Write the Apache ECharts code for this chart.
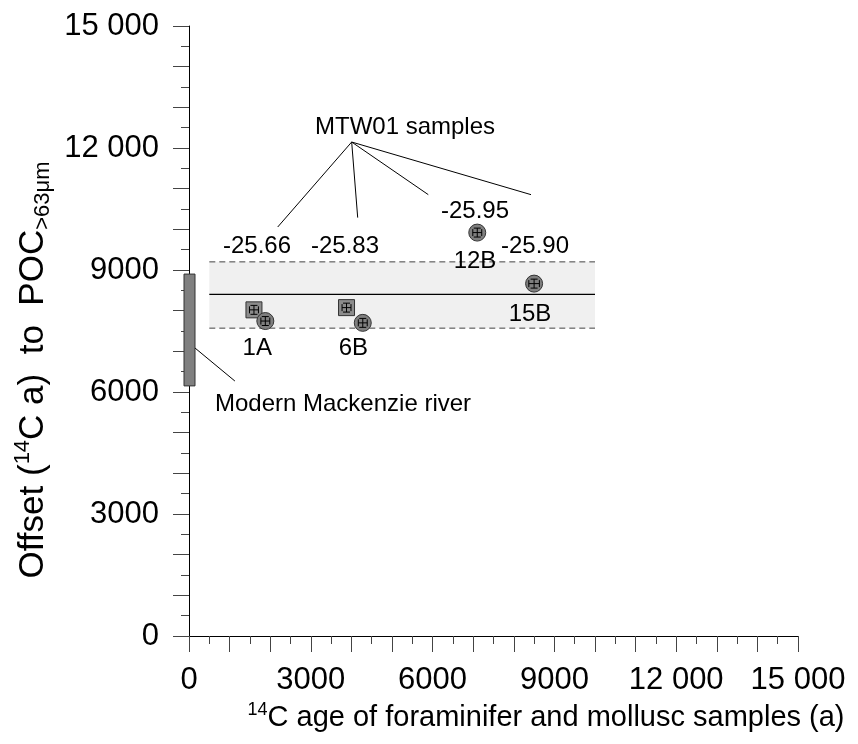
<!DOCTYPE html>
<html><head><meta charset="utf-8">
<script src="https://cdn.jsdelivr.net/npm/echarts@6/dist/echarts.min.js"></script>
<style>html,body{margin:0;padding:0;background:#fff}#c{width:858px;height:744px}</style>
</head><body><div id="c"></div>
<script>
const FONT = '"Liberation Sans", Arial, Helvetica, sans-serif';

// ---- data ----
const axisRange = [0, 15000];
const xTickLabels = [0, 3000, 6000, 9000, 12000, 15000];
const yTickLabels = [0, 3000, 6000, 9000, 12000, 15000];
const squareNames = ['1A', '6B'];
const squareAge = [1600, 3880];
const squareOffset = [8020, 8075];
const squareErrX = [110, 110];
const squareErrY = [110, 110];
const circleNames = ['1A', '6B', '12B', '15B'];
const circleAge = [1880, 4280, 7100, 8500];
const circleOffset = [7745, 7700, 9920, 8665];
const circleErrX = [110, 110, 110, 130];
const circleErrY = [110, 110, 110, 110];
const delta13C = ['-25.66', '-25.83', '-25.95', '-25.90'];
const riverAge = [0];
const riverOffsetRange = [6150, 8900];
const bandAge = [500, 10000];
const bandOffset = [7570, 9200];
const bandMean = [8400];

// ---- annotation anchors (data units) ----
const ann = {
  hub: [4007, 12147],
  leaderEnds: [[2185, 10057], [4155, 10288], [5894, 10853], [8424, 10853]],
  title: [5320, 12508],
  deltaPos: [[1675, 9584], [3842, 9584], [7044, 10444], [8522, 9584]],
  namePos: [[1682, 7067], [4047, 7067], [7044, 9221], [8399, 7910]],
  riverLeader: [[150, 7080], [1130, 6270]],
  riverText: [640, 5697]
};

function fmt(v) {
  return v >= 10000 ? String(v).replace(/(\d+)(\d{3})$/, '$1 $2') : String(v);
}

const chart = echarts.init(document.getElementById('c'), null, {renderer: 'canvas'});

const axisCommon = {
  type: 'value', min: axisRange[0], max: axisRange[1], interval: 1000,
  axisLine: {show: true, onZero: false, lineStyle: {color: '#000', width: 1}},
  axisTick: {show: true, length: 16, lineStyle: {color: '#444', width: 1}},
  minorTick: {show: true, splitNumber: 2, length: 8, lineStyle: {color: '#444', width: 1}},
  splitLine: {show: false}, minorSplitLine: {show: false}
};

const option = {
  animation: false,
  grid: {left: 189, top: 26, width: 609, height: 610, containLabel: false},
  xAxis: Object.assign({}, axisCommon, {
    axisLabel: {margin: 29, fontSize: 31, fontFamily: FONT, color: '#000',
      formatter: v => xTickLabels.includes(v) ? fmt(v) : ''}
  }),
  yAxis: Object.assign({}, axisCommon, {
    axisLabel: {margin: 30, fontSize: 31, fontFamily: FONT, color: '#000',
      formatter: v => yTickLabels.includes(v) ? fmt(v) : ''}
  }),
  graphic: [
    {type: 'text', x: 546, y: 718, style: {
      text: '{sup|14}C age of foraminifer and mollusc samples (a)',
      fontSize: 29, fontFamily: FONT, fill: '#000', align: 'center', verticalAlign: 'middle',
      lineHeight: 33,
      rich: {sup: {fontSize: 18, fontFamily: FONT, lineHeight: 18, verticalAlign: 'top'}}
    }},
    {type: 'text', x: 33, y: 370, rotation: Math.PI / 2, style: {
      text: 'Offset ({sup|14}C a)  to  POC{sub|>63μm}',
      fontSize: 35, fontFamily: FONT, fill: '#000', align: 'center', verticalAlign: 'middle',
      lineHeight: 42,
      rich: {
        sup: {fontSize: 22, fontFamily: FONT, lineHeight: 22, verticalAlign: 'top'},
        sub: {fontSize: 22, fontFamily: FONT, lineHeight: 22, verticalAlign: 'bottom'}
      }
    }}
  ],
  series: [
    { // shaded band
      type: 'custom', z: 1, silent: true,
      data: [[bandAge[0], bandOffset[0], bandAge[1], bandOffset[1], bandMean[0]]],
      renderItem: (params, api) => {
        const tl = api.coord([api.value(0), api.value(3)]);
        const br = api.coord([api.value(2), api.value(1)]);
        const m = api.coord([api.value(0), api.value(4)]);
        return {type: 'group', children: [
          {type: 'rect', shape: {x: tl[0], y: tl[1], width: br[0] - tl[0], height: br[1] - tl[1]},
            style: {fill: '#f0f0f0'}},
          {type: 'line', shape: {x1: tl[0], y1: tl[1], x2: br[0], y2: tl[1]},
            style: {stroke: '#444', lineWidth: 1, lineDash: [6, 4]}},
          {type: 'line', shape: {x1: tl[0], y1: br[1], x2: br[0], y2: br[1]},
            style: {stroke: '#444', lineWidth: 1, lineDash: [6, 4]}},
          {type: 'line', shape: {x1: tl[0], y1: m[1], x2: br[0], y2: m[1]},
            style: {stroke: '#000', lineWidth: 1.2}}
        ]};
      }
    },
    { // modern Mackenzie river bar
      type: 'custom', z: 3, silent: true,
      data: [[riverAge[0], riverOffsetRange[0], riverOffsetRange[1]]],
      renderItem: (params, api) => {
        const lo = api.coord([api.value(0), api.value(1)]);
        const hi = api.coord([api.value(0), api.value(2)]);
        return {type: 'rect', shape: {x: hi[0] - 5, y: hi[1], width: 11, height: lo[1] - hi[1]},
          style: {fill: '#808080', stroke: '#333', lineWidth: 1}};
      }
    },
    { // squares
      type: 'scatter', z: 4, silent: true, symbol: 'rect', symbolSize: 16,
      itemStyle: {color: '#8c8c8c', borderColor: '#333', borderWidth: 1, opacity: 1},
      data: squareAge.map((a, i) => [a, squareOffset[i]])
    },
    { // square error bars
      type: 'custom', z: 5, silent: true,
      data: squareAge.map((a, i) => [a, squareOffset[i], squareErrX[i], squareErrY[i]]),
      renderItem: errRender
    },
    { // circles
      type: 'scatter', z: 6, silent: true, symbol: 'circle', symbolSize: 17,
      itemStyle: {color: '#7f7f7f', borderColor: '#333', borderWidth: 1, opacity: 1},
      data: circleAge.map((a, i) => [a, circleOffset[i]])
    },
    { // circle error bars
      type: 'custom', z: 7, silent: true,
      data: circleAge.map((a, i) => [a, circleOffset[i], circleErrX[i], circleErrY[i]]),
      renderItem: errRender
    },
    { // annotations
      type: 'custom', z: 8, silent: true,
      data: [[0]],
      renderItem: (params, api) => {
        const c = p => api.coord(p);
        const kids = [];
        const h = c(ann.hub);
        ann.leaderEnds.forEach(e => {
          const p = c(e);
          kids.push({type: 'line', shape: {x1: h[0], y1: h[1], x2: p[0], y2: p[1]},
            style: {stroke: '#000', lineWidth: 1}});
        });
        const r0 = c(ann.riverLeader[0]), r1 = c(ann.riverLeader[1]);
        kids.push({type: 'line', shape: {x1: r0[0], y1: r0[1], x2: r1[0], y2: r1[1]},
          style: {stroke: '#000', lineWidth: 1}});
        const txt = (p, s, align) => {
          const q = c(p);
          kids.push({type: 'text', x: q[0], y: q[1], style: {text: s, fontSize: 24, fontFamily: FONT,
            fill: '#000', align: align || 'center', verticalAlign: 'middle'}});
        };
        txt(ann.title, 'MTW01 samples');
        delta13C.forEach((d, i) => txt(ann.deltaPos[i], d));
        circleNames.forEach((n, i) => txt(ann.namePos[i], n));
        txt(ann.riverText, 'Modern Mackenzie river', 'left');
        return {type: 'group', children: kids};
      }
    }
  ]
};

function errRender(params, api) {
  const x = api.value(0), y = api.value(1), ex = api.value(2), ey = api.value(3);
  const l = api.coord([x - ex, y]), r = api.coord([x + ex, y]);
  const t = api.coord([x, y + ey]), b = api.coord([x, y - ey]);
  const cap = 3.5, st = {stroke: '#000', lineWidth: 1};
  return {type: 'group', children: [
    {type: 'line', shape: {x1: l[0], y1: l[1], x2: r[0], y2: r[1]}, style: st},
    {type: 'line', shape: {x1: l[0], y1: l[1] - cap, x2: l[0], y2: l[1] + cap}, style: st},
    {type: 'line', shape: {x1: r[0], y1: r[1] - cap, x2: r[0], y2: r[1] + cap}, style: st},
    {type: 'line', shape: {x1: t[0], y1: t[1], x2: b[0], y2: b[1]}, style: st},
    {type: 'line', shape: {x1: t[0] - cap, y1: t[1], x2: t[0] + cap, y2: t[1]}, style: st},
    {type: 'line', shape: {x1: b[0] - cap, y1: b[1], x2: b[0] + cap, y2: b[1]}, style: st}
  ]};
}

chart.setOption(option);
</script>
</body></html>
